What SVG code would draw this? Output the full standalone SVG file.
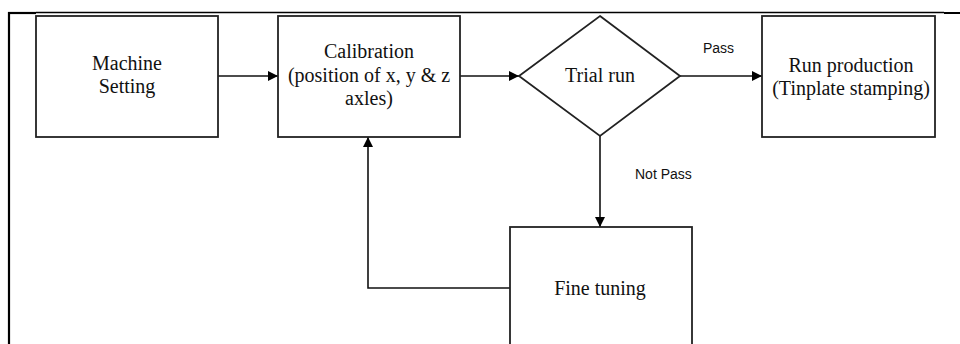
<svg xmlns="http://www.w3.org/2000/svg" width="960" height="344" viewBox="0 0 960 344">
<style>
.box{fill:#fff;stroke:#222;stroke-width:1.8}
.t{font-family:"Liberation Serif","Times New Roman",serif;font-size:20px;fill:#111;text-anchor:middle}
.s{font-family:"Liberation Sans",Arial,sans-serif;font-size:14px;fill:#111}
.c{fill:none;stroke:#111;stroke-width:1.6}
.frame{fill:none;stroke:#000}
</style>
<defs>
<marker id="ah" viewBox="0 0 10 10" refX="10" refY="5" markerWidth="10" markerHeight="10" markerUnits="userSpaceOnUse" orient="auto">
<path d="M0,0 L10,5 L0,10 Z" fill="#000"/>
</marker>
</defs>
<rect width="960" height="344" fill="#fff"/>
<g id="frame">
<line class="frame" x1="8" y1="13" x2="36" y2="13" stroke-width="2.2"/>
<line class="frame" x1="36" y1="12.5" x2="944" y2="12.5" stroke-width="1.3"/>
<line class="frame" x1="944" y1="13" x2="960" y2="13" stroke-width="2"/>
<line class="frame" x1="9" y1="12" x2="9" y2="344" stroke-width="2.2"/>
</g>
<g id="connectors">
<line class="c" x1="218" y1="76" x2="278" y2="76" marker-end="url(#ah)"/>
<line class="c" x1="460" y1="76" x2="519" y2="76" marker-end="url(#ah)"/>
<line class="c" x1="680" y1="76" x2="762" y2="76" marker-end="url(#ah)"/>
<line class="c" x1="600" y1="136" x2="600" y2="227" marker-end="url(#ah)"/>
<polyline class="c" points="510,288 368,288 368,137" marker-end="url(#ah)"/>
<text class="s" x="703" y="53">Pass</text>
<text class="s" x="635" y="179">Not Pass</text>
</g>
<g id="machine-setting">
<rect class="box" x="36" y="16" width="182" height="121"/>
<text class="t" x="127" y="70">Machine</text>
<text class="t" x="127" y="93">Setting</text>
</g>
<g id="calibration">
<rect class="box" x="278" y="16" width="182" height="121"/>
<text class="t" x="369" y="58">Calibration</text>
<text class="t" x="369" y="82">(position of x, y &amp; z</text>
<text class="t" x="369" y="105">axles)</text>
</g>
<g id="trial-run">
<polygon class="box" points="600,16 680,76 600,136 519,76"/>
<text class="t" x="600" y="82">Trial run</text>
</g>
<g id="run-production">
<rect class="box" x="762" y="16" width="173" height="121"/>
<text class="t" x="851" y="72">Run production</text>
<text class="t" x="851" y="95">(Tinplate stamping)</text>
</g>
<g id="fine-tuning">
<rect class="box" x="510" y="227" width="182" height="130"/>
<text class="t" x="600" y="295">Fine tuning</text>
</g>
</svg>
